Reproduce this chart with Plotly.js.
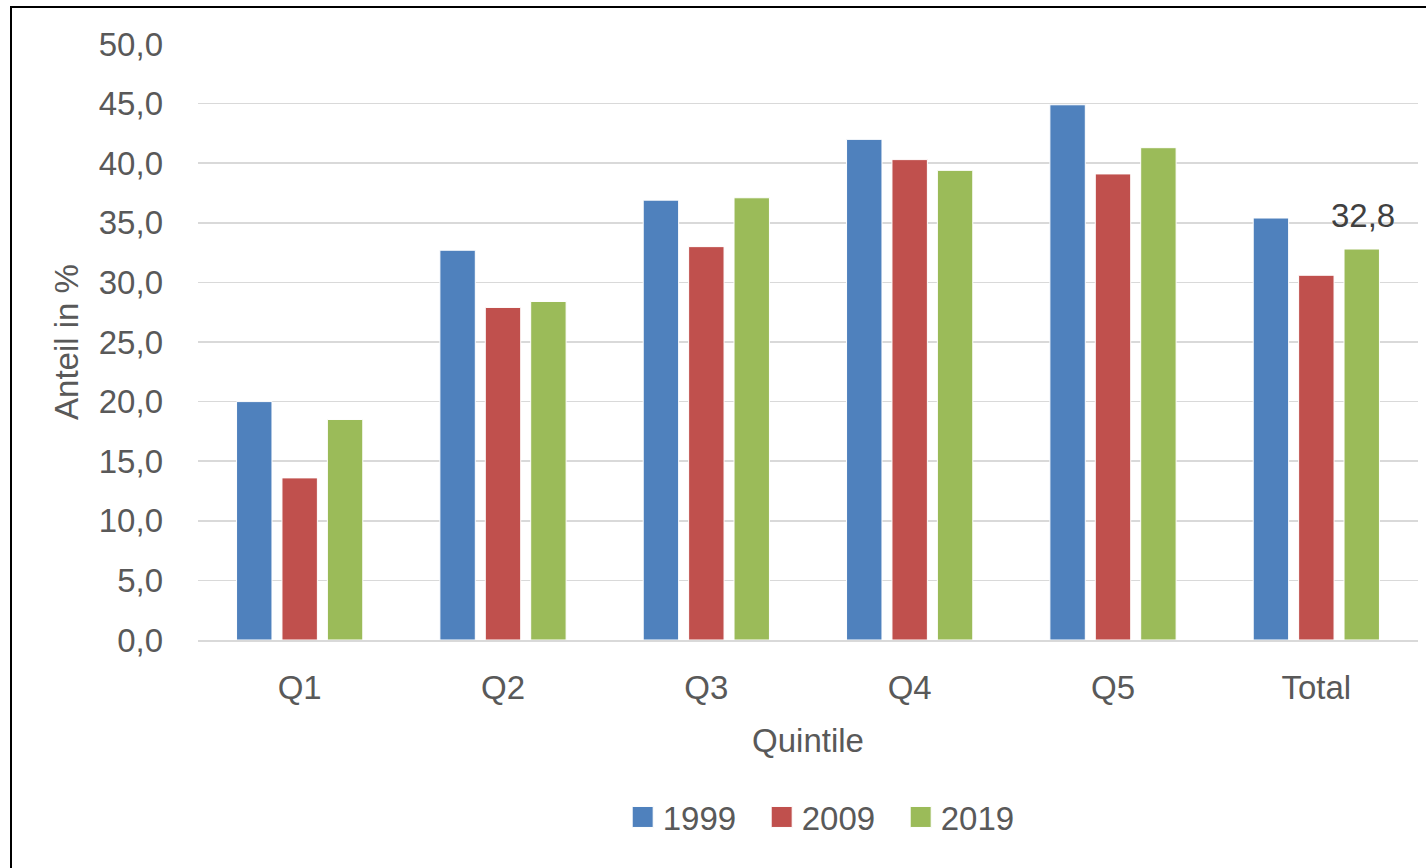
<!DOCTYPE html>
<html>
<head>
<meta charset="utf-8">
<script src="https://cdn.plot.ly/plotly-3.0.1.min.js"></script>
<style>
  html, body { margin: 0; padding: 0; background: #fff; }
  #wrap { position: relative; width: 1426px; height: 868px; overflow: hidden; }
  #chart { position: absolute; left: 0; top: 0; width: 1426px; height: 868px; }
  #frame { position: absolute; left: 10px; top: 6px; width: 1430px; height: 880px; border: 2px solid #000; box-sizing: border-box; pointer-events: none; }
</style>
</head>
<body>
<div id="wrap">
  <div id="chart"></div>
  <div id="frame"></div>
</div>
<script>
const categories = ['Q1', 'Q2', 'Q3', 'Q4', 'Q5', 'Total'];
const seriesNames = ['1999', '2009', '2019'];
const values1999 = [20.0, 32.7, 36.9, 42.0, 44.9, 35.4];
const values2009 = [13.6, 27.9, 33.0, 40.3, 39.1, 30.6];
const values2019 = [18.5, 28.4, 37.1, 39.4, 41.3, 32.8];
const yTickValues = [0, 5, 10, 15, 20, 25, 30, 35, 40, 45, 50];
const labelledIndex = 5; // "Total" 2019 carries a data label

const colors = ['#4F81BD', '#C0504D', '#9BBB59'];
const textColor = '#595959';
const fontFamily = '"Liberation Sans", Arial, sans-serif';
const fs = 33;

const allValues = [values1999, values2009, values2019];
const traces = allValues.map((vals, i) => ({
  type: 'bar',
  name: seriesNames[i],
  x: categories,
  y: vals,
  marker: { color: colors[i], line: { color: '#FFFFFF', width: 1 } },
  hoverinfo: 'x+y+name'
}));

const fmt = v => v.toFixed(1).replace('.', ',');

const layout = {
  width: 1426,
  height: 868,
  paper_bgcolor: '#FFFFFF',
  plot_bgcolor: '#FFFFFF',
  margin: { l: 198, r: 8, t: 44, b: 228 },
  barmode: 'group',
  bargap: 0.33,
  bargroupgap: 0.22,
  separators: ',.',
  font: { family: fontFamily, size: fs, color: textColor },
  showlegend: true,
  legend: {
    orientation: 'h',
    x: 0.519, xanchor: 'center',
    y: -0.297, yanchor: 'middle',
    font: { family: fontFamily, size: fs, color: textColor },
    entrywidth: 94,
    entrywidthmode: 'pixels',
    traceorder: 'normal'
  },
  xaxis: {
    type: 'category',
    showgrid: false,
    showline: true,
    linecolor: '#D9D9D9',
    linewidth: 1.5,
    ticks: '',
    tickfont: { family: fontFamily, size: fs, color: textColor },
    ticklabelstandoff: 18,
    title: { text: 'Quintile', font: { family: fontFamily, size: fs, color: textColor }, standoff: 24 },
    zeroline: false
  },
  yaxis: {
    range: [0, 50],
    tickvals: yTickValues,
    tickformat: '.1f',
    showgrid: true,
    gridcolor: '#D9D9D9',
    gridwidth: 1.5,
    zeroline: false,
    showline: false,
    ticks: '',
    ticklabelstandoff: 34,
    tickfont: { family: fontFamily, size: fs, color: textColor },
    title: { text: 'Anteil in %', font: { family: fontFamily, size: fs, color: textColor }, standoff: 10 }
  },
  annotations: [{
    x: categories[labelledIndex],
    y: values2019[labelledIndex],
    xref: 'x', yref: 'y',
    text: fmt(values2019[labelledIndex]),
    showarrow: false,
    xanchor: 'center', yanchor: 'bottom',
    xshift: 47, yshift: 13,
    font: { family: fontFamily, size: fs, color: '#404040' }
  }]
};

Plotly.newPlot('chart', traces, layout, { displayModeBar: false, staticPlot: true }).then(gd => {
  // enlarge legend swatches to match the reference
  gd.querySelectorAll('.legendpoints path').forEach(p => {
    p.setAttribute('d', 'M10.5,10.5H-10.5V-10.5H10.5Z');
  });
});
</script>
</body>
</html>
